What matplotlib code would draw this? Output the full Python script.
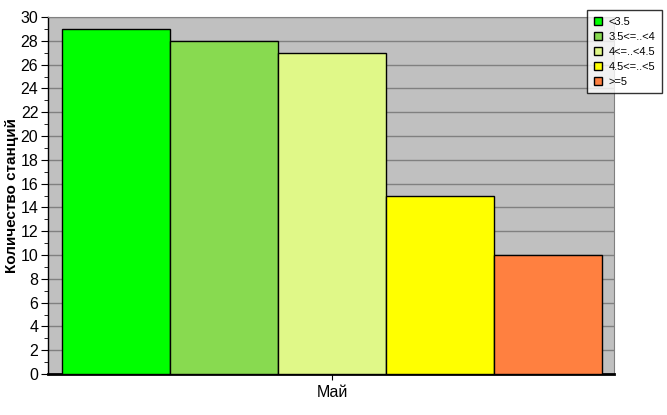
import matplotlib.pyplot as plt
from matplotlib.ticker import MultipleLocator

# data
categories = ["<3.5", "3.5<=..<4", "4<=..<4.5", "4.5<=..<5", ">=5"]
values = [29, 28, 27, 15, 10]
colors = ["#00FF00", "#88DA50", "#E0F888", "#FFFF00", "#FF8040"]
month = "Май"

plt.rcParams['font.family'] = ['Liberation Sans', 'DejaVu Sans']

fig = plt.figure(figsize=(6.67, 4.15), dpi=100)
ax = fig.add_axes([48 / 667, 1 - 374 / 415, 566 / 667, 357 / 415])
ax.set_facecolor("#C0C0C0")

for i, (cat, val, col) in enumerate(zip(categories, values, colors)):
    ax.bar(i, val, width=1, align="edge", color=col, edgecolor="black",
           linewidth=1, label=cat, zorder=3)

ax.set_xlim(-14 / 108, 5 + 12 / 108)
ax.set_ylim(0, 30)
ax.yaxis.set_major_locator(MultipleLocator(2))
ax.yaxis.set_minor_locator(MultipleLocator(1))
ax.grid(axis="y", which="major", color="#808080", linewidth=1, zorder=0)
ax.set_xticks([2.5])
ax.set_xticklabels([month], fontsize=11.5)
ax.tick_params(axis="y", which="major", length=5, labelsize=11.5, pad=2)
ax.tick_params(axis="y", which="minor", length=3)
ax.tick_params(axis="x", length=4, pad=4)

for s in ["top", "right"]:
    ax.spines[s].set_color("#808080")
ax.spines["left"].set_linewidth(1)
ax.spines["bottom"].set_linewidth(2)

ax.set_ylabel("Количество станций", fontsize=11, fontweight="bold", labelpad=1)

leg = fig.legend(loc="upper right", bbox_to_anchor=(662 / 667, 1 - 10 / 415),
                 fontsize=8, frameon=True, fancybox=False, handlelength=0.7,
                 handleheight=0.7, handletextpad=0.6, labelspacing=0.45,
                 borderpad=0.6, borderaxespad=0)
leg.get_frame().set_edgecolor("black")
leg.get_frame().set_linewidth(1)

fig.savefig("out.png", dpi=100)
